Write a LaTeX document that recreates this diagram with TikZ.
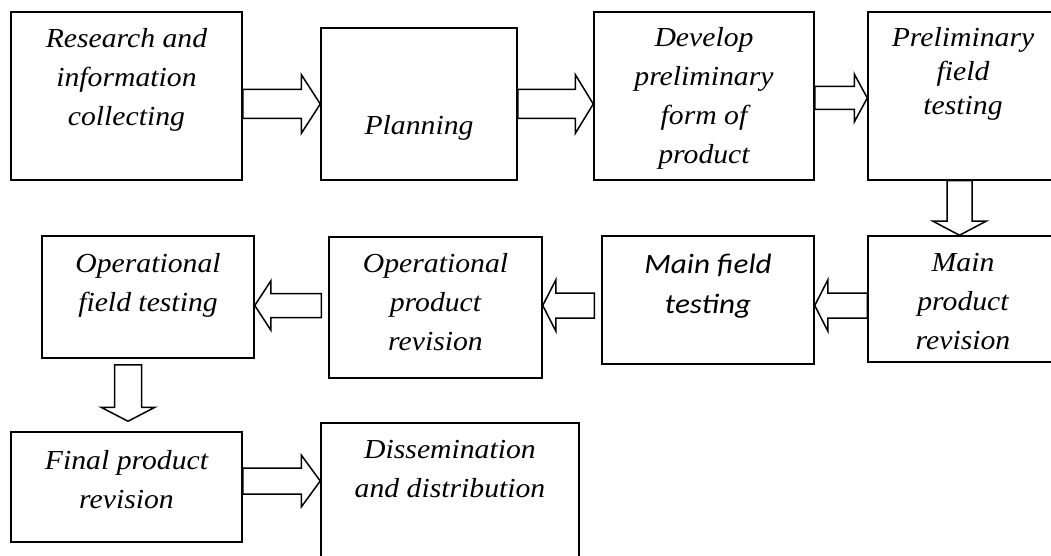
\documentclass[tikz,border=0pt]{standalone}
\usepackage{fontspec}
\setmainfont{Liberation Serif}
\newfontfamily\calibrifont{Carlito}
\usetikzlibrary{calc,positioning}
\tikzset{
  box/.style={draw=black, line width=1.5pt, inner sep=0pt},
  blk/.style={draw=black, line width=1.5pt, fill=white, line join=miter},
  txt/.style={inner sep=0pt, align=center, xscale=1.08, transform shape,
    font=\fontsize{27.5}{39}\selectfont\itshape,
    execute at begin node={\rule{0pt}{22pt}}},
  ctxt/.style={txt, xscale=1.03, font=\calibrifont\fontsize{28}{40}\selectfont\itshape}
}
% hollow block arrow: tail, tip, half shaft, half head, head length
\newcommand{\blockarrow}[5]{%
  \coordinate (hb) at ($(#2)!#5!(#1)$);
  \draw[blk] ($(#1)!#3!90:(#2)$) -- ($(hb)!#3!90:(#2)$) -- ($(hb)!#4!90:(#2)$)
    -- (#2) -- ($(hb)!#4!-90:(#2)$) -- ($(hb)!#3!-90:(#2)$)
    -- ($(#1)!#3!-90:(#2)$) -- cycle;
}

\begin{document}
\begin{tikzpicture}[x=1pt, y=1pt]
  \useasboundingbox (0,0) rectangle (1051,555);
  \clip (0,0) rectangle (1051,555);

  % boxes
  \node[box, minimum width=231pt, minimum height=168pt] (b1) at (126.5,459) {};
  \node[box, minimum width=196pt, minimum height=152pt] (b2) at (419,451) {};
  \node[box, minimum width=220pt, minimum height=168pt] (b3) at (704,459) {};
  \node[box, minimum width=190pt, minimum height=168pt] (b4) at (963,459) {};
  \node[box, minimum width=190pt, minimum height=126pt] (b5) at (963,256) {};
  \node[box, minimum width=212pt, minimum height=128pt] (b6) at (708,255) {};
  \node[box, minimum width=213pt, minimum height=141pt] (b7) at (435.5,247.5) {};
  \node[box, minimum width=212pt, minimum height=122pt] (b8) at (148,258) {};
  \node[box, minimum width=231pt, minimum height=110pt] (b9) at (126.5,68) {};
  \node[box, minimum width=258pt, minimum height=152pt] (b10) at (450,56) {};

  % texts
  \node[txt, below=17pt of b1.north] (t1) {Research and\\information\\collecting};
  \node[txt, below=85pt of b2.north] (t2) {Planning};
  \node[txt, below=16pt of b3.north] (t3) {Develop\\preliminary\\form of\\product};
  \node[txt, font=\fontsize{27.5}{34}\selectfont\itshape, below=16pt of b4.north] (t4) {Preliminary\\field\\testing};
  \node[txt, below=18pt of b5.north] (t5) {Main\\product\\revision};
  \node[ctxt, below=19pt of b6.north] (t6) {Main field\\testing};
  \node[txt, below=17pt of b7.north] (t7) {Operational\\product\\revision};
  \node[txt, below=18pt of b8.north] (t8) {Operational\\field testing};
  \node[txt, below=19pt of b9.north] (t9) {Final product\\revision};
  \node[txt, below=18pt of b10.north] (t10) {Dissemination\\and distribution};

  % arrow ends
  \coordinate (a1s) at (b1.east |- b2.west);
  \coordinate (a2e) at (b3.west |- b2.east);
  \coordinate (a3s) at ($(b3.east)+(0,-2)$);
  \coordinate (a3e) at (b4.west |- a3s);
  \coordinate (a4s) at ($(b4.south)+(-3.5,0)$);
  \coordinate (a4e) at (a4s |- b5.north);
  \coordinate (a5s) at ($(b5.west)+(0,-6.5)$);
  \coordinate (a5e) at (b6.east |- a5s);
  \coordinate (a6s) at ($(b6.west |- a5s)+(-7,0)$);
  \coordinate (a6e) at (b7.east |- a5s);
  \coordinate (a7s) at ($(b7.west |- a5s)+(-7,0)$);
  \coordinate (a7e) at (b8.east |- a5s);
  \coordinate (a8s) at ($(b8.south)+(-20,-6)$);
  \coordinate (a8e) at ($(a8s |- b9.north)+(0,10)$);
  \coordinate (a9s) at ($(b9.east)+(0,6)$);
  \coordinate (a9e) at (b10.west |- a9s);

  % arrows
  \blockarrow{a1s}{b2.west}{14.5pt}{29.5pt}{19pt}
  \blockarrow{b2.east}{a2e}{14.5pt}{29.5pt}{18pt}
  \blockarrow{a3s}{a3e}{11.5pt}{24pt}{13pt}
  \blockarrow{a4s}{a4e}{12.5pt}{26.5pt}{14pt}
  \blockarrow{a5s}{a5e}{12.5pt}{25.5pt}{13pt}
  \blockarrow{a6s}{a6e}{12.5pt}{25.5pt}{13pt}
  \blockarrow{a7s}{a7e}{12pt}{24.5pt}{16pt}
  \blockarrow{a8s}{a8e}{13.5pt}{27pt}{14pt}
  \blockarrow{a9s}{a9e}{13pt}{26pt}{19pt}
\end{tikzpicture}
\end{document}
